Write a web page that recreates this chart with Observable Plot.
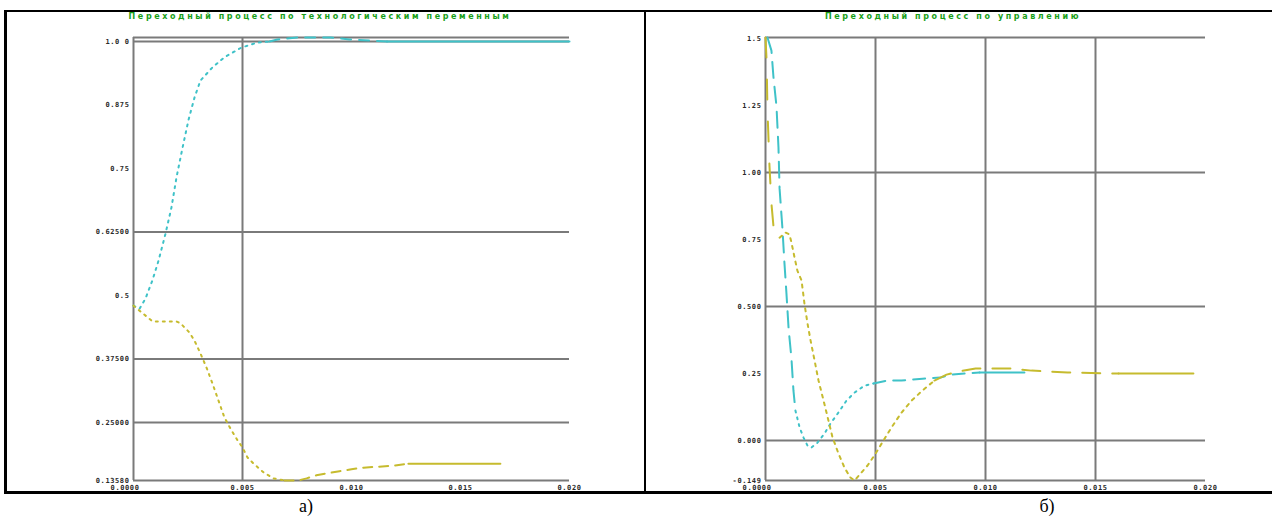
<!DOCTYPE html>
<html><head><meta charset="utf-8">
<script src="https://cdn.jsdelivr.net/npm/d3@7"></script>
<script src="https://cdn.jsdelivr.net/npm/@observablehq/plot@0.6"></script>
<style>
body{margin:0;background:#fff;width:1272px;height:520px;position:relative;overflow:hidden}
.abs{position:absolute}
.bl{position:absolute;background:#000;z-index:5}
.title{position:absolute;top:12px;line-height:12px;color:#19a019;font:bold 8px "DejaVu Sans";letter-spacing:2.6px;white-space:nowrap;transform:translateX(-50%)}
.cap{position:absolute;top:496px;line-height:22px;font:18px "Liberation Serif";transform:translateX(-50%)}
svg text{letter-spacing:0.6px}
</style></head><body>
<div id="p1" class="abs" style="left:0;top:0"></div>
<div id="p2" class="abs" style="left:645px;top:0"></div>
<div class="bl" style="left:4px;top:10px;width:1268px;height:2px"></div>
<div class="bl" style="left:4px;top:10px;width:3px;height:484px"></div>
<div class="bl" style="left:644px;top:10px;width:2px;height:484px"></div>
<div class="bl" style="left:4px;top:491px;width:1268px;height:3px"></div>
<div class="title" style="left:320px">Переходный процесс по технологическим переменным</div>
<div class="title" style="left:953px">Переходный процесс по управлению</div>
<div class="cap" style="left:306px">а)</div>
<div class="cap" style="left:1047px">б)</div>
<script>
// ---- shared time axis ----
const timeTicks = [0, 0.005, 0.01, 0.015, 0.02];
const timeTickLabels = ["0.0000", "0.005", "0.010", "0.015", "0.020"];

// ---- panel a: technological variables ----
const techYTicks = [0.1358, 0.25, 0.375, 0.5, 0.625, 0.75, 0.875, 1.0];
const techYLabels = ["0.13580", "0.25000", "0.37500", "0.5", "0.62500", "0.75", "0.875", "1.0 0"];
const techGridY = [0.25, 0.375, 0.625, 1.0];
const techGridX = [0.005];
const techCyanTime = [0, 0.00028, 0.00055, 0.00087, 0.00115, 0.00147, 0.00174, 0.00197, 0.00225, 0.00252, 0.0028, 0.00307, 0.00362, 0.00417, 0.00495, 0.00569, 0.00624, 0.0066, 0.00752, 0.00904, 0.00991, 0.01163, 0.02];
const techCyan = [0.480, 0.474, 0.494, 0.530, 0.569, 0.622, 0.673, 0.732, 0.791, 0.845, 0.890, 0.923, 0.949, 0.969, 0.988, 0.998, 1.000, 1.004, 1.008, 1.008, 1.004, 1.000, 1.000];
const techYellowTime = [0, 0.00087, 0.00138, 0.00197, 0.00216, 0.00257, 0.0028, 0.00307, 0.00335, 0.00362, 0.0039, 0.00417, 0.0045, 0.00477, 0.005, 0.00523, 0.00551, 0.00596, 0.00642, 0.00693, 0.00757, 0.00794, 0.00839, 0.0089, 0.00945, 0.01, 0.01055, 0.01124, 0.01193, 0.01261, 0.01683];
const techYellow = [0.480, 0.449, 0.449, 0.449, 0.445, 0.427, 0.411, 0.386, 0.358, 0.327, 0.293, 0.260, 0.234, 0.215, 0.201, 0.181, 0.169, 0.152, 0.140, 0.136, 0.136, 0.140, 0.146, 0.150, 0.154, 0.158, 0.161, 0.163, 0.165, 0.169, 0.169];

// ---- panel b: control ----
const ctrlYTicks = [-0.149, 0, 0.25, 0.5, 0.75, 1.0, 1.25, 1.5];
const ctrlYLabels = ["-0.149", "0.000", "0.25", "0.500", "0.75", "1.00", "1.25", "1.5"];
const ctrlGridY = [0, 0.5, 1.0];
const ctrlGridX = [0.005, 0.01, 0.015];
const ctrlCyanTime = [0.00009, 0.00027, 0.00036, 0.0005, 0.00059, 0.00064, 0.00077, 0.00086, 0.00095, 0.00105, 0.00118, 0.00127, 0.00136, 0.00155, 0.00173, 0.00191, 0.00209, 0.00236, 0.00268, 0.00295, 0.00332, 0.00368, 0.00405, 0.0045, 0.00491, 0.00555, 0.00618, 0.00714, 0.00795, 0.00841, 0.00973, 0.01177];
const ctrlCyan = [1.504, 1.455, 1.358, 1.246, 1.093, 0.940, 0.791, 0.664, 0.552, 0.418, 0.306, 0.187, 0.112, 0.049, 0.011, -0.019, -0.026, -0.008, 0.026, 0.063, 0.105, 0.149, 0.179, 0.205, 0.213, 0.224, 0.224, 0.231, 0.235, 0.246, 0.254, 0.254];
const ctrlYellowTime = [0, 0.00005, 0.00009, 0.00018, 0.00027, 0.00036, 0.0005, 0.00064, 0.00091, 0.00109, 0.00118, 0.00132, 0.00145, 0.00164, 0.00177, 0.00191, 0.00205, 0.00223, 0.00241, 0.00264, 0.00286, 0.00305, 0.00332, 0.00359, 0.00386, 0.00405, 0.00432, 0.00464, 0.005, 0.00536, 0.00573, 0.00618, 0.00664, 0.00714, 0.00768, 0.00823, 0.00877, 0.00955, 0.01009, 0.01118, 0.01209, 0.01373, 0.01605, 0.01945];
const ctrlYellow = [1.504, 1.418, 1.231, 1.026, 0.884, 0.802, 0.761, 0.757, 0.776, 0.769, 0.739, 0.683, 0.634, 0.597, 0.511, 0.437, 0.373, 0.299, 0.224, 0.149, 0.075, 0.011, -0.049, -0.101, -0.138, -0.149, -0.123, -0.093, -0.049, 0.000, 0.049, 0.104, 0.149, 0.187, 0.224, 0.246, 0.258, 0.269, 0.269, 0.269, 0.261, 0.254, 0.250, 0.250];

const CYAN = "#3fc2c8", YELLOW = "#c6bb2e", GRID = "#7a7a7a", LBL = "#2a2a2a";
const rows = (ts, vs) => ts.map((t, i) => ({t, v: vs[i]}));
const part = (data, a, b) => data.filter(d => d.t >= a - 1e-9 && d.t <= b + 1e-9);

function styledLine(data, color, pieces) {
  return pieces.map(([a, b, dash]) => Plot.line(part(data, a, b), {
    x: "t", y: "v", stroke: color, strokeWidth: 2, strokeDasharray: dash, curve: "linear"
  }));
}

function panel({width, marginLeft, marginRight, yDomain, yTicks, yLabels, gridY, gridX, lines}) {
  const lab = new Map(yTicks.map((d, i) => [d, yLabels[i]]));
  const xlab = new Map(timeTicks.map((d, i) => [d, timeTickLabels[i]]));
  const font = {fontSize: 7, fontFamily: "DejaVu Sans Mono", fontWeight: "bold", fill: LBL};
  return Plot.plot({
    width, height: 492, marginLeft, marginRight, marginTop: 37, marginBottom: 12,
    x: {domain: [0, 0.02], axis: null},
    y: {domain: yDomain, axis: null},
    style: {overflow: "visible", background: "transparent"},
    marks: [
      Plot.ruleY(gridY, {stroke: GRID, strokeWidth: 2}),
      Plot.ruleY([yDomain[0], yDomain[1]], {stroke: GRID, strokeWidth: 2}),
      Plot.ruleX([0, ...gridX], {stroke: GRID, strokeWidth: 2}),
      ...lines,
      Plot.text(yTicks, {x: 0, y: d => d, text: d => lab.get(d), textAnchor: "end", dx: -4, ...font}),
      Plot.text(timeTicks.slice(0, 1), {x: d => d, y: yDomain[0], text: d => xlab.get(d), textAnchor: "end", dx: 6, dy: 7, ...font}),
      Plot.text(timeTicks.slice(1), {x: d => d, y: yDomain[0], text: d => xlab.get(d), textAnchor: "middle", dy: 7, ...font})
    ]
  });
}

const techC = rows(techCyanTime, techCyan), techY = rows(techYellowTime, techYellow);
const ctrlC = rows(ctrlCyanTime, ctrlCyan), ctrlY = rows(ctrlYellowTime, ctrlYellow);

document.getElementById("p1").append(panel({
  width: 640, marginLeft: 133, marginRight: 71,
  yDomain: [0.1358, 1.0079], yTicks: techYTicks, yLabels: techYLabels,
  gridY: techGridY, gridX: techGridX,
  lines: [
    ...styledLine(techC, CYAN, [[0, 0.00624, "2,5"], [0.00624, 0.01163, "10,8"], [0.01163, 0.02, null]]),
    ...styledLine(techY, YELLOW, [[0, 0.00693, "2,5"], [0.00693, 0.01261, "9,7"], [0.01261, 0.01683, null]])
  ]
}));

document.getElementById("p2").append(panel({
  width: 627, marginLeft: 120, marginRight: 67,
  yDomain: [-0.149, 1.504], yTicks: ctrlYTicks, yLabels: ctrlYLabels,
  gridY: ctrlGridY, gridX: ctrlGridX,
  lines: [
    ...styledLine(ctrlC, CYAN, [[0.00009, 0.00136, "16,9"], [0.00136, 0.00491, "2,5"], [0.00491, 0.00973, "12,8"], [0.00973, 0.01177, null]]),
    ...styledLine(ctrlY, YELLOW, [[0, 0.00064, "20,22"], [0.00064, 0.00768, "3,5"], [0.00768, 0.01605, "18,12"], [0.01605, 0.01945, null]])
  ]
}));
</script>
</body></html>
